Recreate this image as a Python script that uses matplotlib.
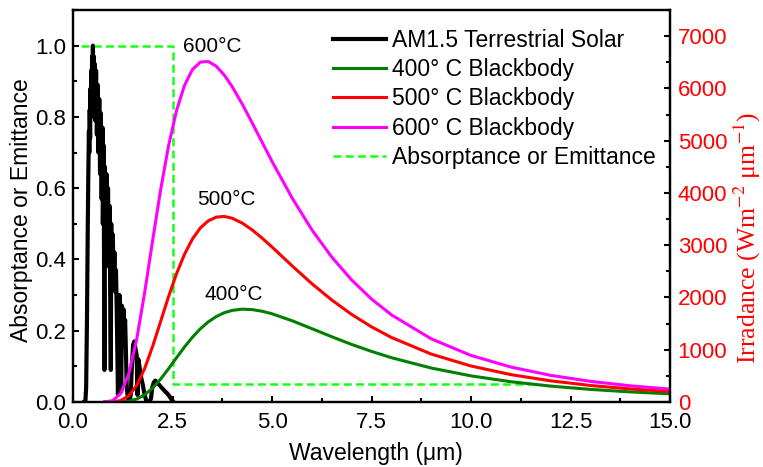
import matplotlib
matplotlib.use('Agg')
import matplotlib.pyplot as plt
from matplotlib.ticker import MultipleLocator, FormatStrFormatter

plt.rcParams['font.family'] = ['Liberation Sans', 'DejaVu Sans']
plt.rcParams['mathtext.fontset'] = 'stix'

# ---- data ----
solar_wl = [0.28, 0.31, 0.33, 0.35, 0.37, 0.385, 0.40, 0.41, 0.42, 0.43, 0.44, 0.45, 0.46,
            0.47, 0.48, 0.49, 0.50, 0.51, 0.52, 0.53, 0.54, 0.56, 0.58, 0.60, 0.62, 0.64,
            0.66, 0.68, 0.70, 0.72, 0.74, 0.75, 0.77, 0.79, 0.80, 0.82, 0.84, 0.86, 0.88,
            0.90, 0.92, 0.95, 0.96, 0.98, 1.00, 1.02, 1.04, 1.06, 1.08, 1.10, 1.13, 1.15,
            1.17, 1.19, 1.21, 1.23, 1.25, 1.27, 1.29, 1.31, 1.33, 1.35, 1.38, 1.42, 1.45,
            1.48, 1.51, 1.54, 1.57, 1.60, 1.62, 1.64, 1.67, 1.71, 1.75, 1.80, 1.85, 1.92,
            1.96, 1.99, 2.03, 2.07, 2.11, 2.15, 2.19, 2.23, 2.27, 2.31, 2.36, 2.41, 2.46,
            2.50]
solar_val = [0.0, 0.0, 0.04, 0.22, 0.48, 0.64, 0.76, 0.70, 0.82, 0.74, 0.88, 0.80, 0.93,
             0.86, 0.97, 0.91, 1.00, 0.92, 0.97, 0.80, 0.95, 0.79, 0.93, 0.75, 0.89, 0.70,
             0.85, 0.64, 0.81, 0.57, 0.77, 0.50, 0.72, 0.09, 0.66, 0.46, 0.64, 0.42, 0.60,
             0.38, 0.55, 0.09, 0.50, 0.36, 0.47, 0.33, 0.42, 0.31, 0.37, 0.25, 0.02, 0.26,
             0.30, 0.26, 0.03, 0.27, 0.23, 0.26, 0.21, 0.23, 0.14, 0.04, 0.01, 0.0, 0.02,
             0.10, 0.16, 0.17, 0.15, 0.13, 0.02, 0.12, 0.10, 0.07, 0.05, 0.02, 0.0, 0.0,
             0.01, 0.04, 0.055, 0.06, 0.055, 0.05, 0.045, 0.04, 0.035, 0.03, 0.025, 0.018,
             0.01, 0.004]

bb_wl = [0.8, 1.0, 1.2, 1.4, 1.6, 1.8, 2.0, 2.2, 2.4, 2.6, 2.8, 3.0, 3.2, 3.4, 3.6, 3.8,
         4.0, 4.25, 4.5, 4.75, 5.0, 5.5, 6.0, 6.5, 7.0, 7.5, 8.0, 9.0, 10.0, 11.0, 12.0,
         13.0, 14.0, 15.0]
bb_400 = [0, 0, 3, 16, 56, 138, 266, 437, 636, 846, 1051, 1239, 1401, 1534, 1635, 1708,
          1753, 1776, 1768, 1737, 1688, 1556, 1404, 1249, 1102, 968, 848, 650, 500, 388,
          304, 241, 193, 156]
bb_500 = [0, 3, 28, 117, 316, 640, 1062, 1537, 2014, 2452, 2824, 3118, 3331, 3467, 3537,
          3550, 3516, 3424, 3294, 3137, 2966, 2609, 2265, 1952, 1676, 1438, 1235, 917, 689,
          524, 405, 316, 250, 200]
bb_600 = [1, 26, 163, 537, 1199, 2091, 3085, 4053, 4899, 5572, 6056, 6360, 6504, 6515,
          6424, 6256, 6033, 5703, 5343, 4972, 4604, 3910, 3297, 2774, 2336, 1970, 1668,
          1209, 891, 669, 510, 395, 310, 246]

absorb_wl = [0.2, 2.5, 2.5, 11.5]
absorb_val = [1.0, 1.0, 0.05, 0.05]

labels = ['AM1.5 Terrestrial Solar', '400° C Blackbody', '500° C Blackbody',
          '600° C Blackbody', 'Absorptance or Emittance']
temp_labels = ['600°C', '500°C', '400°C']
temp_pos = [(3.49, 0.997), (3.85, 0.567), (4.04, 0.303)]

# ---- figure ----
W, H = 763, 467
fig = plt.figure(figsize=(W / 100, H / 100), dpi=100)
L, R, B, T = 73, 670, 402, 10
ax = fig.add_axes([L / W, 1 - B / H, (R - L) / W, (B - T) / H])
ax2 = ax.twinx()

l_abs, = ax.plot(absorb_wl, absorb_val, color='#1aff1a', lw=1.8, ls=(0, (3.2, 1.7)), zorder=2)
l_sol, = ax.plot(solar_wl, solar_val, color='black', lw=3.0, zorder=3)

l400, = ax2.plot(bb_wl, bb_400, color='#007f00', lw=2.2)
l500, = ax2.plot(bb_wl, bb_500, color='#ff0000', lw=2.2)
l600, = ax2.plot(bb_wl, bb_600, color='#ff00ff', lw=2.2)

ax.set_xlim(0, 15)
ax.set_ylim(0, 1.1)
ax2.set_ylim(0, 7500)

ax.xaxis.set_major_locator(MultipleLocator(2.5))
ax.xaxis.set_minor_locator(MultipleLocator(1.25))
ax.yaxis.set_major_locator(MultipleLocator(0.2))
ax.yaxis.set_minor_locator(MultipleLocator(0.1))
ax2.yaxis.set_major_locator(MultipleLocator(1000))
ax2.yaxis.set_minor_locator(MultipleLocator(500))
ax.xaxis.set_major_formatter(FormatStrFormatter('%.1f'))
ax.yaxis.set_major_formatter(FormatStrFormatter('%.1f'))

for a in (ax, ax2):
    for s in a.spines.values():
        s.set_linewidth(1.6)
ax.tick_params(axis='both', which='both', direction='in', top=False, right=False,
               labelsize=16, width=1.5)
ax.tick_params(which='major', length=4)
ax.tick_params(which='minor', length=3)
ax.tick_params(axis='x', pad=7.5)
ax.tick_params(axis='y', pad=5)
ax2.tick_params(axis='y', which='both', direction='in', labelsize=16, width=1.5,
                labelcolor='#ff0000', pad=5.5)
ax2.tick_params(which='major', length=4)
ax2.tick_params(which='minor', length=3)

ax.set_xlabel('Wavelength (μm)', fontsize=16.5)
ax.xaxis.set_label_coords((375.5 - L) / (R - L), -(442 - B) / (B - T))
ax.set_ylabel('Absorptance or Emittance', fontsize=16.5)
ax.yaxis.set_label_coords(-(73 - 33) / (R - L), (B - 210) / (B - T))

fig.text(747 / W, 1 - 238 / H, 'Irradance (Wm$^{-2}$ μm$^{-1}$)', fontsize=18.5,
         color='#ff0000', family='Liberation Serif', rotation=90,
         ha='center', va='center')

for lab, (x, y) in zip(temp_labels, temp_pos):
    ax.text(x, y, lab, fontsize=15, ha='center', va='center', zorder=5)

leg = ax2.legend([l_sol, l400, l500, l600, l_abs], labels, loc='upper left',
                 bbox_to_anchor=(333 / W, 1 - 29 / H), bbox_transform=fig.transFigure,
                 frameon=False, fontsize=16.5, handlelength=2.3, handletextpad=0.26,
                 labelspacing=0.27, borderpad=0, borderaxespad=0)

fig.savefig('out.png', dpi=100)
